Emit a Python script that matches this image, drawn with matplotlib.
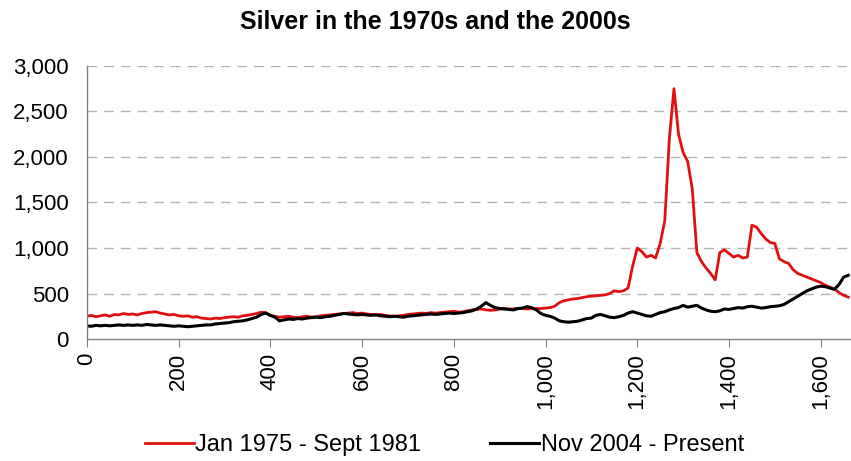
import matplotlib
matplotlib.use("Agg")
import matplotlib.pyplot as plt
from matplotlib.ticker import FuncFormatter, MultipleLocator

plt.rcParams['font.family'] = ['Liberation Sans', 'DejaVu Sans']

# Day index (every 10 trading days)
days = list(range(0, 1670, 10))

red_1970s = [
    250, 260, 245, 255, 265, 250, 270, 265, 280, 270,
    275, 265, 280, 290, 295, 300, 285, 275, 265, 270,
    255, 250, 255, 240, 245, 230, 225, 220, 230, 225,
    235, 240, 245, 240, 255, 260, 270, 280, 295, 290,
    260, 250, 240, 245, 250, 240, 235, 245, 250, 240,
    245, 255, 260, 265, 270, 275, 280, 285, 290, 280,
    285, 275, 270, 265, 270, 260, 255, 250, 255, 260,
    270, 275, 280, 285, 280, 290, 285, 290, 295, 300,
    305, 295, 300, 310, 320, 325, 330, 320, 315, 320,
    330, 335, 330, 330, 335, 335, 330, 335, 335, 335,
    340, 345, 360, 400, 420, 430, 440, 445, 455, 465,
    470, 475, 480, 485, 500, 530, 520, 530, 560, 800,
    1000, 960, 900, 920, 890, 1050, 1300, 2200, 2750, 2250,
    2050, 1950, 1650, 950, 850, 780, 720, 650, 950, 980,
    940, 900, 920, 890, 900, 1250, 1230, 1160, 1100, 1060,
    1050, 880, 850, 830, 760, 720, 700, 680, 660, 640,
    620, 590, 570, 550, 510, 480, 460,
]

black_2000s = [
    145, 140, 150, 145, 150, 145, 150, 155, 150, 155,
    150, 155, 150, 160, 155, 150, 155, 150, 145, 140,
    145, 140, 135, 140, 145, 150, 155, 155, 165, 170,
    175, 180, 190, 195, 200, 210, 225, 240, 270, 285,
    260, 240, 200, 210, 220, 215, 225, 220, 230, 235,
    240, 235, 245, 250, 260, 270, 280, 275, 270, 265,
    270, 265, 260, 265, 255, 250, 245, 250, 245, 240,
    250, 255, 260, 265, 270, 275, 270, 275, 280, 285,
    280, 285, 290, 300, 310, 330, 360, 400, 370, 345,
    335, 330, 325, 320, 335, 340, 355, 345, 320, 280,
    260, 250, 230, 200, 190, 185, 190, 195, 210, 225,
    230, 260, 270, 255, 240, 235, 245, 260, 285, 300,
    285, 270, 255, 250, 270, 290, 300, 320, 335, 345,
    370, 350, 360, 370, 340, 320, 305, 300, 310, 330,
    325, 335, 345, 340, 355, 360, 350, 340, 345, 355,
    360, 365, 380, 410, 440, 470, 500, 530, 550, 570,
    580, 575, 560, 545, 600, 680, 700,
]

labels = ["Jan 1975 - Sept 1981", "Nov 2004 - Present"]
title = "Silver in the 1970s and the 2000s"

fig = plt.figure(figsize=(8.51, 4.61), dpi=100)
ax = fig.add_axes([0.102, 0.2646, 0.898, 0.5924])

ax.plot(days, red_1970s, color='#e01010', lw=2.0, label=labels[0])
ax.plot(days, black_2000s, color='black', lw=2.2, label=labels[1])

ax.set_xlim(0, 1666)
ax.set_ylim(0, 3000)
ax.xaxis.set_major_locator(MultipleLocator(200))
ax.yaxis.set_major_locator(MultipleLocator(500))
fmt = FuncFormatter(lambda v, p: f"{int(v):,}")
ax.xaxis.set_major_formatter(fmt)
ax.yaxis.set_major_formatter(fmt)

for v in range(500, 3001, 500):
    ax.axhline(v, color='#b4b4b4', lw=1.0, linestyle=(0, (7, 5)), zorder=0)

for s in ['top', 'right']:
    ax.spines[s].set_visible(False)
for s in ['left', 'bottom']:
    ax.spines[s].set_color('#808080')
    ax.spines[s].set_linewidth(1.0)

ax.tick_params(axis='x', direction='out', length=6, color='#808080',
               labelsize=16, labelrotation=90, pad=4)
ax.tick_params(axis='y', length=0, labelsize=16, pad=13)
for lab in ax.get_xticklabels():
    lab.set_verticalalignment('top')

fig.text(0.512, 0.952, title, ha='center', va='center', fontsize=18, fontweight='bold')

fig.legend(loc='lower center', bbox_to_anchor=(0.522, -0.035), ncol=2, frameon=False,
           fontsize=17, handlelength=2.1, handletextpad=0.05, columnspacing=2.9)

fig.savefig('out.png', dpi=100)
